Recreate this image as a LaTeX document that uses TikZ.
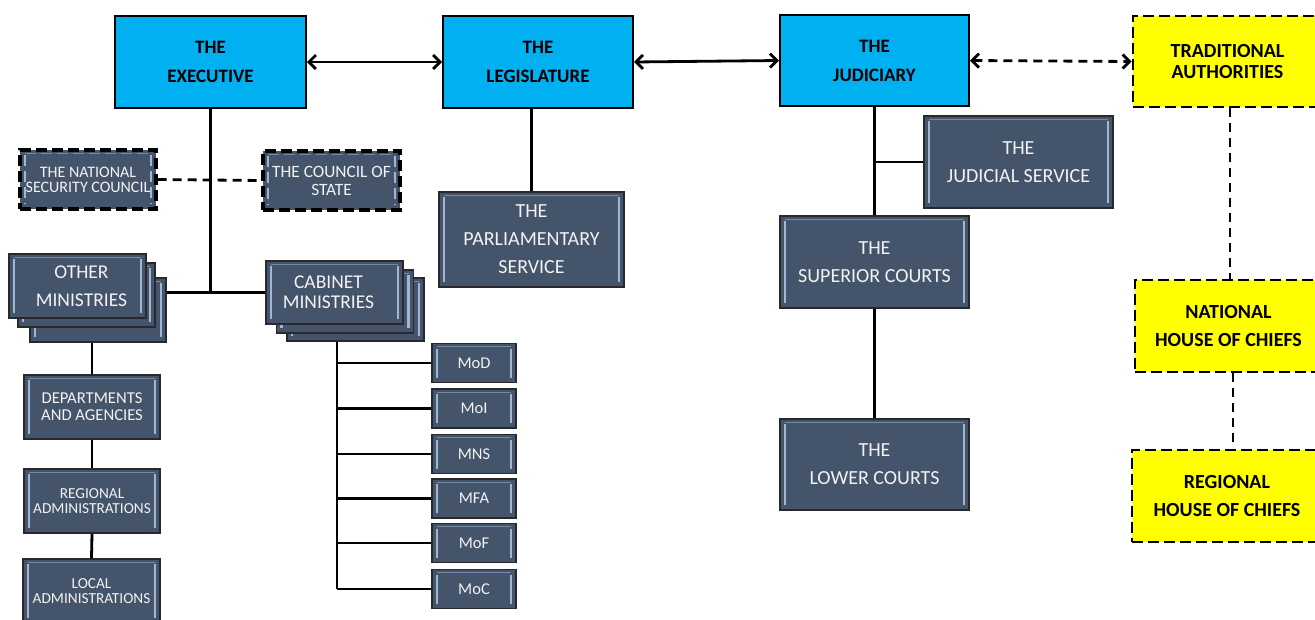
\documentclass[tikz,border=0pt]{standalone}
\usepackage{fontspec}
\setmainfont{Carlito}
\usetikzlibrary{arrows.meta}

\definecolor{armblue}{RGB}{0,176,240}
\definecolor{slate}{RGB}{68,84,106}
\definecolor{slateedge}{RGB}{40,40,45}
\definecolor{bevel}{RGB}{160,182,212}
\definecolor{chief}{RGB}{255,255,0}
\definecolor{boxtext}{RGB}{242,242,242}

\newcommand{\bigtext}{\fontsize{20}{28}\selectfont}

\tikzset{
  link/.style={draw=black, line width=2.8pt},
  dashlink/.style={draw=black, line width=2.8pt, dash pattern=on 9pt off 6pt},
  twoway/.style={{Straight Barb[length=7pt,width=14pt]}-{Straight Barb[length=7pt,width=14pt]}},
  armbox/.style={draw=black, line width=2pt, fill=armblue, align=center,
    inner sep=0pt, font=\bfseries\fontsize{19}{29}\selectfont},
  chiefbox/.style={draw=black, line width=2.8pt, dash pattern=on 11pt off 5pt,
    fill=chief, align=center, inner sep=0pt},
  slatebox/.style={draw=slateedge, line width=1.5pt, fill=slate, text=boxtext,
    align=center, inner sep=0pt,
    path picture={
      \draw[bevel, line width=2.4pt]
        ([shift={(5pt,-5pt)}]path picture bounding box.north west) --
        ([shift={(5pt,5pt)}]path picture bounding box.south west);
      \draw[bevel, line width=2.4pt]
        ([shift={(-5pt,-5pt)}]path picture bounding box.north east) --
        ([shift={(-5pt,5pt)}]path picture bounding box.south east);
      \draw[bevel!55!slate, line width=0.9pt]
        ([shift={(5pt,-3pt)}]path picture bounding box.north west) --
        ([shift={(-5pt,-3pt)}]path picture bounding box.north east);
    }},
  councilbox/.style={slatebox, draw=black, line width=3.4pt, dash pattern=on 11pt off 5pt},
  ministry/.style={slatebox, minimum width=84pt, minimum height=39pt,
    font=\fontsize{16.5}{18}\selectfont},
}

\begin{document}
\begin{tikzpicture}[x=1pt, y=-1pt]
\useasboundingbox (0,0) rectangle (1315,619);
\clip (0,0) rectangle (1315,619);
\fill[white] (0,0) rectangle (1315,619);

% the three arms of government and the traditional authorities
\node[armbox, minimum width=191pt, minimum height=92pt] (exec) at (210.5,62) {THE\\EXECUTIVE};
\node[armbox, minimum width=190pt, minimum height=92pt] (leg) at (538,62) {THE\\LEGISLATURE};
\node[armbox, minimum width=189pt, minimum height=91pt] (jud) at (874.5,60.5) {THE\\JUDICIARY};
\node[chiefbox, minimum width=189pt, minimum height=91pt,
      font=\bfseries\fontsize{20}{21}\selectfont] (trad) at (1227.5,61.5) {TRADITIONAL\\AUTHORITIES};

% executive councils
\node[councilbox, minimum width=136pt, minimum height=59pt,
      font=\fontsize{16}{15}\selectfont] (nsc) at (88,179.5) {THE NATIONAL\\SECURITY COUNCIL};
\node[councilbox, minimum width=137pt, minimum height=59pt,
      font=\fontsize{17.3}{18}\selectfont] (cos) at (331.5,180.5) {THE COUNCIL OF\\STATE};

% stacked ministry groups
\node[slatebox, minimum width=136pt, minimum height=64pt] (om3) at (98,310) {};
\node[slatebox, minimum width=137pt, minimum height=64pt] (om2) at (86.5,295) {};
\node[slatebox, minimum width=137pt, minimum height=64pt, font=\fontsize{19.5}{28}\selectfont]
  (om1) at (77.5,286) {OTHER\hspace*{-8pt}\\MINISTRIES\hspace*{-8pt}};

\node[slatebox, minimum width=137pt, minimum height=63pt] (cab3) at (355.5,309.5) {};
\node[slatebox, minimum width=137pt, minimum height=63pt] (cab2) at (345,301.5) {};
\node[slatebox, minimum width=137pt, minimum height=63pt,
      font=\fontsize{19.5}{20}\selectfont] (cab1) at (334.5,292.5) {CABINET\hspace*{12pt}\\MINISTRIES\hspace*{12pt}};

% chain below the other ministries
\node[slatebox, minimum width=136pt, minimum height=64pt,
      font=\fontsize{16.6}{17}\selectfont] (dept) at (92,407) {DEPARTMENTS\\AND AGENCIES};
\node[slatebox, minimum width=136pt, minimum height=64pt,
      font=\fontsize{15.3}{15}\selectfont] (rega) at (92,501) {REGIONAL\\ADMINISTRATIONS};
\node[slatebox, minimum width=137pt, minimum height=64pt,
      font=\fontsize{15.3}{15}\selectfont] (loca) at (91.5,591) {LOCAL\\ADMINISTRATIONS};

% cabinet ministries
\node[ministry] (mod) at (474,363) {MoD};
\node[ministry] (moi) at (474,408.5) {MoI};
\node[ministry] (mns) at (474,454) {MNS};
\node[ministry] (mfa) at (474,498.5) {MFA};
\node[ministry] (mof) at (474,543) {MoF};
\node[ministry] (moc) at (474,589) {MoC};

% legislature and judiciary bodies
\node[slatebox, minimum width=185pt, minimum height=95pt, font=\bigtext] (parl) at (531.5,239.5) {THE\\PARLIAMENTARY\\SERVICE};
\node[slatebox, minimum width=189pt, minimum height=92pt, font=\bigtext] (js) at (1018.5,162) {THE\\JUDICIAL SERVICE};
\node[slatebox, minimum width=189pt, minimum height=92pt, font=\bigtext] (sup) at (874.5,262) {THE\\SUPERIOR COURTS};
\node[slatebox, minimum width=189pt, minimum height=91pt, font=\bigtext] (low) at (874.5,464.5) {THE\\LOWER COURTS};

% houses of chiefs
\node[chiefbox, minimum width=187pt, minimum height=92pt,
      font=\bfseries\bigtext] (nat) at (1228.5,326) {NATIONAL\\HOUSE OF CHIEFS};
\node[chiefbox, minimum width=190pt, minimum height=92pt,
      font=\bfseries\bigtext] (rhc) at (1227,496) {REGIONAL\\HOUSE OF CHIEFS};

% relations between the arms
\draw[link, twoway] (exec.east) -- (leg.west);
\draw[link, twoway] (leg.east) -- (jud.west);
\draw[dashlink, twoway] (jud.east) -- (trad.west);

% executive branch
\coordinate (ejoin) at (exec.south |- cab1.west);
\draw[link] (exec.south) -- (ejoin);
\draw[link] (om3.east |- ejoin) -- (cab1.west |- ejoin);
\draw[dashlink] (nsc.east) -- (cos.west);
\draw[link] (dept.north |- om3.south) -- (dept.north);
\draw[link] (dept.south) -- (rega.north);
\draw[link] (rega.south) -- (loca.north);

% cabinet ministries bus
\coordinate (ctop) at (337,0 |- cab3.south);
\draw[link] (ctop) -- (ctop |- moc.west);
\foreach \m in {mod,moi,mns,mfa,mof,moc}
  \draw[link] (ctop |- \m.west) -- (\m.west);

% legislature
\draw[link] (leg.south -| parl.north) -- (parl.north);

% judiciary
\draw[link] (jud.south) -- (sup.north);
\draw[link] (jud.south |- js.west) -- (js.west);
\draw[link] (sup.south) -- (low.north);

% traditional authorities
\draw[dashlink] (trad.south -| 1230,0) -- (nat.north -| 1230,0);
\draw[dashlink] (nat.south -| 1233,0) -- ([yshift=5pt]rhc.north -| 1233,0);
\end{tikzpicture}
\end{document}
